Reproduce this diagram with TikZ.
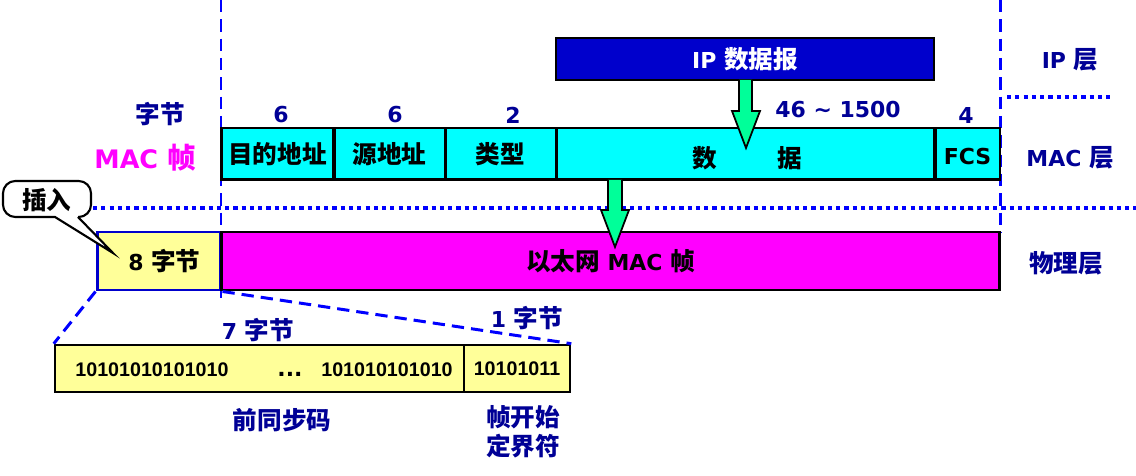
\documentclass[tikz,border=0pt]{standalone}
\usepackage{fontspec}
\setmainfont{DejaVu Sans}
\newfontfamily\cjk{Noto Sans CJK SC}[Scale=1.12]
\newfontfamily\binfont{Liberation Sans}
\definecolor{navy}{RGB}{0,0,150}
\definecolor{ipblue}{RGB}{0,0,204}
\definecolor{linkblue}{RGB}{0,0,255}
\definecolor{cyanf}{RGB}{0,255,255}
\definecolor{magf}{RGB}{255,0,255}
\definecolor{yelf}{RGB}{255,255,153}
\definecolor{greenf}{RGB}{0,255,153}
\tikzset{
  big/.style={font=\fontsize{12.5}{16}\selectfont\bfseries},
  small/.style={font=\fontsize{11.2}{13}\selectfont\binfont\bfseries},
  field/.style={draw=black, line width=1.7pt, fill=cyanf, inner sep=0pt, minimum height=1.04cm, big},
  lbl/.style={big, text=navy, inner sep=0pt},
  dotline/.style={linkblue, line width=2.4pt, dash pattern=on 2.4pt off 2.3pt},
  dashline/.style={linkblue, line width=1.7pt, dash pattern=on 7pt off 4pt},
  garrow/.style={fill=greenf, draw=black, line width=1pt, line join=miter}
}
\begin{document}
\begin{tikzpicture}[x=0.02cm,y=-0.02cm]
\useasboundingbox (0,0) rectangle (1136,476);
% vertical dashed boundaries
\draw[dashline] (221,0) -- (221,298);
\draw[dashline] (1000,0) -- (1000,232);
% dotted layer separators
\draw[dotline] (1007,97) -- (1113,97);
\draw[dotline] (93,208) -- (1136,208);

% IP datagram
\node[draw=black, line width=1.2pt, fill=ipblue, minimum width=7.56cm, minimum height=0.84cm, inner sep=0pt, big, text=white] (ip) at (745,59) {IP {\cjk 数据报}};

% MAC frame fields
\node[field, minimum width=2.26cm] (dst) at (277.5,154) {\cjk 目的地址};
\node[field, minimum width=2.22cm] (src) at (389.5,154) {\cjk 源地址};
\node[field, minimum width=2.22cm] (typ) at (500.5,154) {\cjk 类型};
\node[field, minimum width=7.58cm] (dat) at (745.5,154) {};
\node[field, minimum width=1.30cm] (fcs) at (967.5,154) {};
\node[big, inner sep=0pt] (fcst) at (967.5,157) {FCS};
\node[big, inner sep=0pt] (d1) at (705,158) {\cjk 数};
\node[big, inner sep=0pt] (d2) at (790,158) {\cjk 据};

% sizes
\node[lbl] (n1) at (281,115) {6};
\node[lbl] (n2) at (395,115) {6};
\node[lbl] (n3) at (513,115) {2};
\node[lbl] (n4) at (838,110) {46 \char"007E{} 1500};
\node[lbl] (n5) at (966,115) {4};
\node[lbl] (zj) at (160,114) {\cjk 字节};
\node[text=magf, inner sep=0pt, font=\fontsize{14.5}{17}\selectfont\bfseries] (macz) at (145,158) {MAC {\cjk 帧}};

% layer labels
\node[lbl] (l1) at (1070,60) {IP {\cjk 层}};
\node[lbl] (l2) at (1070,158) {MAC {\cjk 层}};
\node[lbl] (l3) at (1066,263) {\cjk 物理层};

% physical layer
\node[draw=ipblue, line width=1.7pt, fill=yelf, minimum width=2.48cm, minimum height=1.16cm, inner sep=0pt, big] (pre8) at (159,261) {\hspace{0.5em}8 {\cjk 字节}};
\node[draw=black, line width=1.7pt, fill=magf, minimum width=15.58cm, minimum height=1.16cm, inner sep=0pt, big] (eth) at (610.5,261) {{\cjk 以太网} MAC {\cjk 帧}};

% green arrows
\draw[garrow] (739,80) -- (739,111) -- (732,111) -- (746,148) -- (760,111) -- (752,111) -- (752,80);
\draw[garrow] (608,180) -- (608,210) -- (601,210) -- (615,247) -- (629,210) -- (622,210) -- (622,180);

% callout
\draw[fill=white, line width=1.2pt, line join=miter] (78,217) -- (113,253) -- (55,217) [rounded corners=7pt] -- (3,217) -- (3,181) -- (91,181) -- (91,217) [sharp corners] -- (78,217);
\node[big, inner sep=0pt] (ins) at (47,200) {\cjk 插入};

% preamble
\node[draw=black, line width=1.5pt, fill=yelf, minimum width=8.18cm, minimum height=0.94cm, inner sep=0pt] (pa) at (259.5,368.5) {};
\node[draw=black, line width=1.5pt, fill=yelf, minimum width=2.12cm, minimum height=0.94cm, inner sep=0pt, small] (sfd) at (517,368.5) {10101011};
\node[small, inner sep=0pt] (b1) at (152,370) {10101010101010};
\node[small, inner sep=0pt] (b2) at (387,370) {101010101010};
\node[big, inner sep=0pt] (dots) at (290,374) {...};

% zoom lines
\draw[dashline] (pre8.south west) -- (pa.north west);
\draw[dashline] (pre8.south east) -- (sfd.north east);

\node[lbl] (s7) at (258,330) {7 {\cjk 字节}};
\node[lbl] (s1) at (527,318) {1 {\cjk 字节}};
\node[lbl] (qtb) at (282,420) {\cjk 前同步码};
\node[lbl, align=center, font=\fontsize{12.5}{16.5}\selectfont\bfseries] (sfdl) at (523,432) {{\cjk 帧开始}\\{\cjk 定界符}};
\end{tikzpicture}
\end{document}
